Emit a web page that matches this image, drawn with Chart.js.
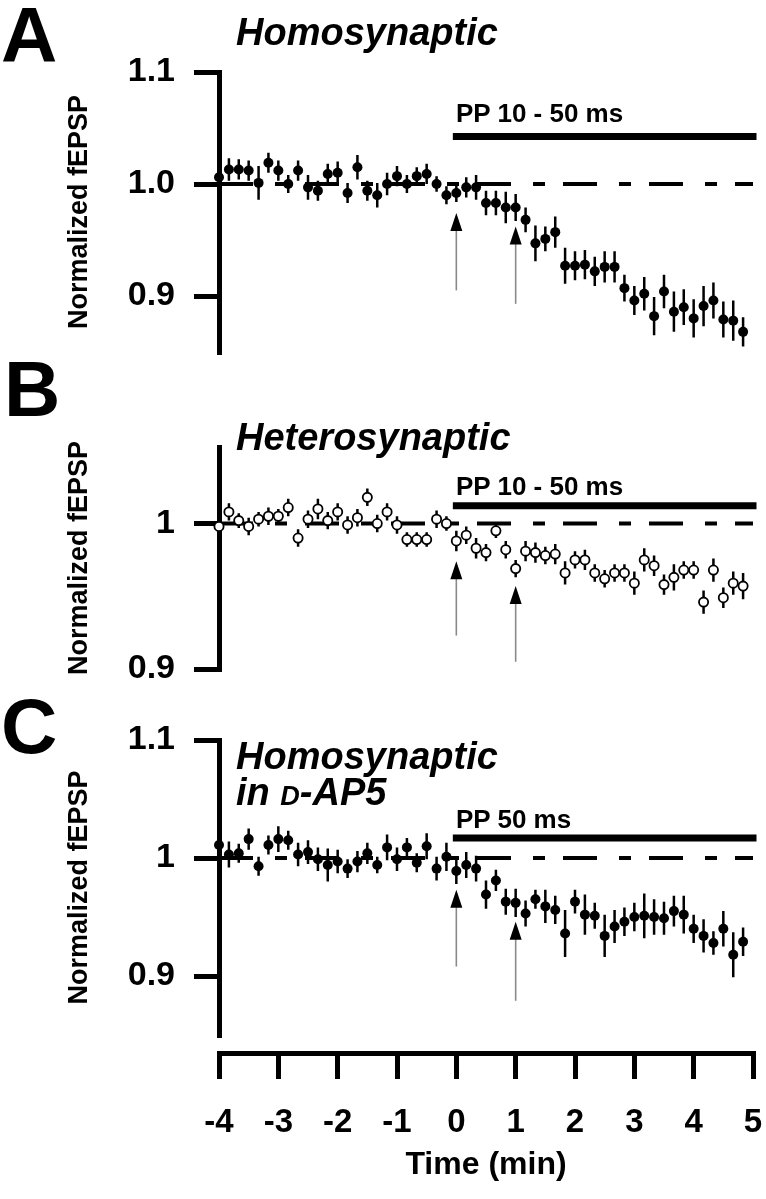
<!DOCTYPE html>
<html>
<head>
<meta charset="utf-8">
<script src="https://cdn.jsdelivr.net/npm/chart.js@4.4.0/dist/chart.umd.min.js"></script>
<style>
  body { margin: 0; background: #fff; width: 766px; height: 1199px; position: relative; overflow: hidden;
         font-family: "Liberation Sans", Arial, sans-serif; }
  canvas { position: absolute; left: 0; }
  .txt { position: absolute; white-space: nowrap; line-height: 1; color: #000; font-weight: bold; }
  .letter { font-size: 78px; }
  .title { font-size: 38px; font-style: italic; }
  .pp { font-size: 26px; }
</style>
</head>
<body>
<canvas id="chartA" width="766" height="360" style="top:0px"></canvas>
<canvas id="chartB" width="766" height="310" style="top:370px"></canvas>
<canvas id="chartC" width="766" height="350" style="top:690px"></canvas>
<canvas id="chartTime" width="766" height="159" style="top:1040px"></canvas>

<div class="txt letter" style="left:1px;top:-4px">A</div>
<div class="txt letter" style="left:4px;top:350px">B</div>
<div class="txt letter" style="left:1px;top:687px">C</div>

<div class="txt title" style="left:236px;top:13px">Homosynaptic</div>
<div class="txt title" style="left:236px;top:418px">Heterosynaptic</div>
<div class="txt title" style="left:236px;top:737px">Homosynaptic</div>
<div class="txt title" style="left:236px;top:773px">in <span style="font-size:27px">D</span>-AP5</div>

<div class="txt pp" style="left:456px;top:100px">PP 10 - 50 ms</div>
<div class="txt pp" style="left:456px;top:473px">PP 10 - 50 ms</div>
<div class="txt pp" style="left:456px;top:806px">PP 50 ms</div>

<script>
// time of each sweep (min), every 10 s
const times = [-4, -3.833, -3.667, -3.5, -3.333, -3.167, -3, -2.833, -2.667, -2.5, -2.333, -2.167,
  -2, -1.833, -1.667, -1.5, -1.333, -1.167, -1, -0.833, -0.667, -0.5, -0.333, -0.167,
  0, 0.167, 0.333, 0.5, 0.667, 0.833, 1, 1.167, 1.333, 1.5, 1.667, 1.833,
  2, 2.167, 2.333, 2.5, 2.667, 2.833, 3, 3.167, 3.333, 3.5, 3.667, 3.833,
  4, 4.167, 4.333, 4.5, 4.667, 4.833];
const timeTicks = [-4, -3, -2, -1, 0, 1, 2, 3, 4, 5];

// A - homosynaptic
const homoMean = [1.006, 1.013, 1.013, 1.012, 1.001, 1.019, 1.012, 1.000, 1.012, 0.997, 0.994, 1.009,
  1.010, 0.992, 1.015, 0.994, 0.990, 1.000, 1.007, 1.000, 1.007, 1.009, 1.000, 0.990,
  0.992, 0.997, 0.997, 0.983, 0.983, 0.979, 0.979, 0.968, 0.947, 0.951, 0.957, 0.927,
  0.927, 0.928, 0.922, 0.926, 0.926, 0.907, 0.896, 0.902, 0.882, 0.904, 0.886, 0.890,
  0.880, 0.891, 0.896, 0.879, 0.878, 0.868];
const homoSem = [0.004, 0.010, 0.009, 0.009, 0.015, 0.009, 0.009, 0.008, 0.009, 0.011, 0.009, 0.009,
  0.010, 0.009, 0.011, 0.009, 0.011, 0.010, 0.009, 0.008, 0.008, 0.009, 0.007, 0.008,
  0.008, 0.009, 0.011, 0.011, 0.011, 0.014, 0.012, 0.011, 0.016, 0.011, 0.014, 0.016,
  0.013, 0.013, 0.013, 0.014, 0.014, 0.012, 0.013, 0.015, 0.017, 0.015, 0.018, 0.016,
  0.017, 0.018, 0.016, 0.016, 0.018, 0.013];

// B - heterosynaptic
const heteroMean = [0.998, 1.008, 1.002, 0.998, 1.003, 1.005, 1.005, 1.011, 0.990, 1.003, 1.010, 1.002,
  1.008, 0.999, 1.004, 1.018, 1.000, 1.008, 0.999, 0.989, 0.989, 0.989, 1.003, 1.000,
  0.988, 0.992, 0.983, 0.980, 0.995, 0.982, 0.969, 0.981, 0.980, 0.978, 0.979, 0.966,
  0.975, 0.975, 0.966, 0.962, 0.966, 0.966, 0.959, 0.975, 0.971, 0.958, 0.963, 0.968,
  0.968, 0.946, 0.968, 0.949, 0.959, 0.957];
const heteroSem = [0.002, 0.006, 0.005, 0.006, 0.005, 0.006, 0.005, 0.006, 0.006, 0.006, 0.007, 0.006,
  0.006, 0.006, 0.006, 0.006, 0.006, 0.006, 0.006, 0.005, 0.005, 0.005, 0.006, 0.005,
  0.007, 0.006, 0.007, 0.006, 0.005, 0.006, 0.006, 0.007, 0.007, 0.006, 0.007, 0.008,
  0.006, 0.007, 0.006, 0.006, 0.006, 0.006, 0.008, 0.008, 0.007, 0.007, 0.009, 0.006,
  0.006, 0.008, 0.008, 0.007, 0.008, 0.009];

// C - homosynaptic in D-AP5
const ap5Mean = [1.011, 1.003, 1.004, 1.016, 0.993, 1.011, 1.016, 1.015, 1.003, 1.005, 0.999, 0.994,
  0.997, 0.991, 0.997, 1.004, 0.994, 1.009, 0.999, 1.009, 0.996, 1.010, 0.991, 1.001,
  0.989, 0.994, 0.991, 0.969, 0.981, 0.963, 0.962, 0.953, 0.965, 0.959, 0.956, 0.936,
  0.963, 0.952, 0.951, 0.934, 0.942, 0.946, 0.950, 0.951, 0.950, 0.949, 0.955, 0.952,
  0.940, 0.934, 0.928, 0.940, 0.918, 0.929];
const ap5Sem = [0.004, 0.011, 0.008, 0.009, 0.008, 0.008, 0.011, 0.008, 0.010, 0.010, 0.010, 0.014,
  0.010, 0.008, 0.009, 0.009, 0.007, 0.011, 0.010, 0.008, 0.008, 0.011, 0.010, 0.012,
  0.011, 0.011, 0.011, 0.012, 0.009, 0.011, 0.012, 0.011, 0.008, 0.014, 0.012, 0.020,
  0.010, 0.017, 0.011, 0.018, 0.014, 0.012, 0.012, 0.019, 0.015, 0.014, 0.013, 0.016,
  0.012, 0.014, 0.010, 0.015, 0.019, 0.012];

// stimulation arrows at 0 and 1 min (tip / tail of each arrow, in fEPSP units)
const arrowTimes = [0, 1];
const homoArrowTip = [0.974, 0.962];
const homoArrowTail = [0.905, 0.893];
const heteroArrowTip = [0.974, 0.957];
const heteroArrowTail = [0.923, 0.905];
const ap5ArrowTip = [0.973, 0.946];
const ap5ArrowTail = [0.908, 0.879];

// PP stimulation bar level and span
const ppSpan = [0, 5];
const homoBarLevel = 1.0424;
const heteroBarLevel = 1.0123;
const ap5BarLevel = 1.017;

Chart.defaults.font.family = '"Liberation Sans", Arial, sans-serif';
Chart.defaults.color = '#000';

const arrowPlugin = {
  id: 'arrows',
  afterDatasetsDraw(chart, args, opts) {
    const ctx = chart.ctx;
    const xs = chart.scales.x, ys = chart.scales.y;
    opts.times.forEach((t, i) => {
      const x = xs.getPixelForValue(t);
      const tip = ys.getPixelForValue(opts.tips[i]);
      const tail = ys.getPixelForValue(opts.tails[i]);
      ctx.save();
      ctx.strokeStyle = '#8a8a8a';
      ctx.lineWidth = 1.6;
      ctx.beginPath();
      ctx.moveTo(x, tip + 16);
      ctx.lineTo(x, tail);
      ctx.stroke();
      ctx.fillStyle = '#000';
      ctx.beginPath();
      ctx.moveTo(x, tip);
      ctx.lineTo(x - 6, tip + 18);
      ctx.lineTo(x + 6, tip + 18);
      ctx.closePath();
      ctx.fill();
      ctx.restore();
    });
  }
};

const buildPanel = (id, p) => {
  const points = times.map((t, i) => ({ x: t, y: p.mean[i] }));
  const bars = [];
  times.forEach((t, i) => {
    bars.push({ x: t, y: p.mean[i] - p.sem[i] });
    bars.push({ x: t, y: p.mean[i] + p.sem[i] });
    bars.push({ x: t, y: null });
  });

  new Chart(document.getElementById(id), {
    type: 'scatter',
    data: {
      datasets: [
        {
          data: points,
          pointRadius: p.hollow ? 4.6 : 5,
          pointBorderWidth: p.hollow ? 1.8 : 0,
          pointBackgroundColor: p.hollow ? '#fff' : '#000',
          pointBorderColor: '#000',
          showLine: false,
          clip: false
        },
        {
          type: 'line',
          data: bars,
          borderColor: '#000',
          borderWidth: 2.5,
          pointRadius: 0,
          spanGaps: false,
          clip: false
        },
        {
          type: 'line',
          data: [{ x: timeTicks[0], y: 1 }, { x: timeTicks[timeTicks.length - 1], y: 1 }],
          borderColor: '#000',
          borderWidth: 4,
          borderDash: [34, 22, 12, 18],
          borderCapStyle: 'butt',
          pointRadius: 0,
          clip: false
        },
        {
          type: 'line',
          data: ppSpan.map(t => ({ x: t, y: p.bar })),
          borderColor: '#000',
          borderWidth: 7,
          borderCapStyle: 'square',
          pointRadius: 0,
          clip: false
        }
      ]
    },
    options: {
      responsive: false,
      animation: false,
      layout: { padding: { left: 0, right: 13, top: p.padTop, bottom: p.padBottom } },
      plugins: {
        legend: { display: false },
        tooltip: { enabled: false },
        arrows: { times: arrowTimes, tips: p.tips, tails: p.tails }
      },
      scales: {
        x: { type: 'linear', min: -4, max: 5, display: false },
        y: {
          type: 'linear',
          min: p.min,
          max: p.max,
          afterBuildTicks: s => { s.ticks = p.tickVals.map(v => ({ value: v })); },
          afterFit: s => {
            s.width = 219;
            s.paddingTop = 0;
            s.paddingBottom = 0;
          },
          ticks: {
            autoSkip: false,
            padding: 19,
            font: { size: 34, weight: 'bold' },
            callback: (v, i) => p.tickLabels[i]
          },
          grid: { drawOnChartArea: false, tickLength: 25, lineWidth: 5, color: '#000' },
          border: { display: true, width: 5, color: '#000' },
          title: {
            display: true,
            text: 'Normalized fEPSP',
            font: { size: 27, weight: 'bold' },
            padding: { top: 63, bottom: 0 }
          }
        }
      }
    },
    plugins: [arrowPlugin]
  });
};

buildPanel('chartA', {
  mean: homoMean, sem: homoSem, hollow: false, bar: homoBarLevel,
  tips: homoArrowTip, tails: homoArrowTail,
  min: 0.85, max: 1.1, tickVals: [0.9, 1.0, 1.1], tickLabels: ['0.9', '1.0', '1.1'],
  padTop: 72, padBottom: 8
});

buildPanel('chartB', {
  mean: heteroMean, sem: heteroSem, hollow: true, bar: heteroBarLevel,
  tips: heteroArrowTip, tails: heteroArrowTail,
  min: 0.9, max: 1.0526, tickVals: [0.9, 1], tickLabels: ['0.9', '1'],
  padTop: 77, padBottom: 11
});

buildPanel('chartC', {
  mean: ap5Mean, sem: ap5Sem, hollow: false, bar: ap5BarLevel,
  tips: ap5ArrowTip, tails: ap5ArrowTail,
  min: 0.85, max: 1.1, tickVals: [0.9, 1, 1.1], tickLabels: ['0.9', '1', '1.1'],
  padTop: 50, padBottom: 3
});

// shared time axis under the three panels
new Chart(document.getElementById('chartTime'), {
  type: 'scatter',
  data: { datasets: [] },
  options: {
    responsive: false,
    animation: false,
    layout: { padding: { left: 219, right: 13, top: 0, bottom: 0 } },
    plugins: { legend: { display: false }, tooltip: { enabled: false } },
    scales: {
      x: {
        type: 'linear',
        min: -4,
        max: 5,
        position: 'bottom',
        afterBuildTicks: s => { s.ticks = timeTicks.map(v => ({ value: v })); },
        afterFit: s => {
          s.height = 146;
          s.paddingLeft = 0;
          s.paddingRight = 0;
        },
        ticks: { autoSkip: false, maxRotation: 0, padding: 24, font: { size: 33, weight: 'bold' } },
        grid: { drawOnChartArea: false, tickLength: 26, lineWidth: 5, color: '#000' },
        border: { display: true, width: 5, color: '#000' },
        title: {
          display: true,
          text: 'Time (min)',
          font: { size: 32, weight: 'bold' },
          padding: { top: 0, bottom: 15 }
        }
      },
      y: { display: false, min: 0, max: 1 }
    }
  }
});
</script>
</body>
</html>
